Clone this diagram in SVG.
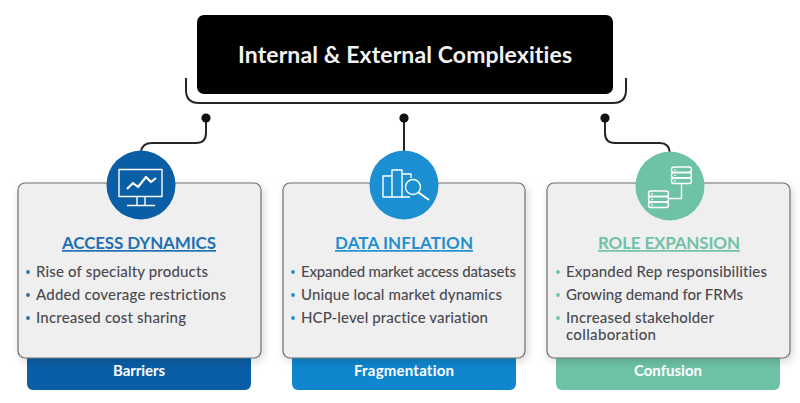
<svg xmlns="http://www.w3.org/2000/svg" width="800" height="403" viewBox="0 0 800 403">
<style>
.t{font-family:Lato,"Liberation Sans",sans-serif;font-variant-ligatures:none}
.card{fill:#efefef;stroke:#6e6e6e;stroke-width:1.2;filter:url(#sh)}
.b{font-size:15px;font-weight:500;fill:#4a4a4f}
.h{font-size:17px;font-weight:700;text-anchor:middle;text-decoration:underline}
.f{font-size:15px;font-weight:700;fill:#fff;text-anchor:middle}
.c{fill:none;stroke:#262626;stroke-width:2}
.i{fill:none;stroke:#fff;stroke-width:1.4;stroke-linejoin:round}
</style>
<defs>
<filter id="sh" x="-10%" y="-10%" width="120%" height="120%"><feDropShadow dx="2" dy="3" stdDeviation="4" flood-color="#000" flood-opacity=".16"/></filter>
</defs>
<rect width="800" height="403" fill="#fff"/>
<g id="connectors">
<path class="c" d="M186 78V90Q186 103 199 103H613Q626 103 626 90V78"/>
<path class="c" d="M206 118V133Q206 143 196 143H152Q142 143 141 152"/>
<path class="c" d="M404 118V152"/>
<path class="c" d="M605 118V133Q605 143 615 143H660Q669 143 670 153"/>
<circle cx="206" cy="118" r="4.6" fill="#111"/>
<circle cx="404" cy="118" r="4.6" fill="#111"/>
<circle cx="605" cy="118" r="4.6" fill="#111"/>
</g>
<g id="title">
<rect x="197" y="15" width="416" height="79" rx="7" fill="#000"/>
<text class="t" x="405" y="63" font-size="23" font-weight="700" fill="#f2f2f2" text-anchor="middle" textLength="334" lengthAdjust="spacing">Internal &amp; External Complexities</text>
</g>
<g id="access">
<rect x="27" y="340" width="224" height="50" rx="6" fill="#0a5ea6"/>
<text class="t f" x="139" y="376" textLength="52">Barriers</text>
<rect class="card" x="18" y="183" width="243" height="175" rx="7"/>
<text class="t h" x="139" y="249" fill="#1f6fb2" textLength="154">ACCESS DYNAMICS</text>
<g class="t b">
<text x="36" y="277" textLength="172">Rise of specialty products</text>
<text x="36" y="300" textLength="190">Added coverage restrictions</text>
<text x="36" y="323" textLength="150">Increased cost sharing</text>
</g>
<g fill="#2b6ea8"><circle cx="28" cy="272" r="1.9"/><circle cx="28" cy="295" r="1.9"/><circle cx="28" cy="318" r="1.9"/></g>
<circle cx="141" cy="185" r="34.5" fill="#0a5ea6"/>
<g class="i">
<rect x="119" y="169.500" width="43" height="27"/>
<path d="M137 197V205M145 197V205M127 205.500H155"/>
<path d="M127 189L133 183L138 187L146 177L151 182L156 178" stroke-width="2.200"/>
</g>
</g>
<g id="data">
<rect x="292" y="340" width="224" height="50" rx="6" fill="#0f86cd"/>
<text class="t f" x="404" y="376" textLength="100">Fragmentation</text>
<rect class="card" x="283" y="183" width="242" height="175" rx="7"/>
<text class="t h" x="404" y="249" fill="#1f8fd0" textLength="138">DATA INFLATION</text>
<g class="t b">
<text x="301" y="277" textLength="215">Expanded market access datasets</text>
<text x="301" y="300" textLength="201">Unique local market dynamics</text>
<text x="301" y="323" textLength="187">HCP-level practice variation</text>
</g>
<g fill="#1f8fd0"><circle cx="293" cy="272" r="1.9"/><circle cx="293" cy="295" r="1.9"/><circle cx="293" cy="318" r="1.9"/></g>
<circle cx="404" cy="185" r="34.5" fill="#1b8fd2"/>
<g class="i">
<path d="M383 197V176H392V197ZM392 197V170H402V197ZM402 174H411V178M383 197H410"/>
<circle cx="413" cy="187" r="7.500" fill="#1b8fd2"/>
<path d="M418.500 192.500L429 200" stroke-width="2"/>
</g>
</g>
<g id="role">
<rect x="556" y="340" width="224" height="50" rx="6" fill="#6ec2a6"/>
<text class="t f" x="668" y="376" textLength="68">Confusion</text>
<rect class="card" x="547" y="183" width="243" height="175" rx="7"/>
<text class="t h" x="669" y="249" fill="#6fc2a7" textLength="142">ROLE EXPANSION</text>
<g class="t b">
<text x="566" y="277" textLength="201">Expanded Rep responsibilities</text>
<text x="566" y="300" textLength="177">Growing demand for FRMs</text>
<text x="566" y="323" textLength="148">Increased stakeholder</text>
<text x="566" y="340" textLength="90">collaboration</text>
</g>
<g fill="#6fc2a7"><circle cx="558" cy="272" r="1.9"/><circle cx="558" cy="295" r="1.9"/><circle cx="558" cy="318" r="1.9"/></g>
<circle cx="670" cy="186" r="34.5" fill="#6ec2a6"/>
<g class="i">
<rect x="671.500" y="167" width="20" height="5.500" rx="2.500"/>
<rect x="671.500" y="172.500" width="20" height="5.500" rx="2.500"/>
<rect x="671.500" y="178" width="20" height="5.500" rx="2.500"/>
<rect x="648.500" y="191" width="20" height="5.500" rx="2.500"/>
<rect x="648.500" y="196.500" width="20" height="5.500" rx="2.500"/>
<rect x="648.500" y="202" width="20" height="5.500" rx="2.500"/>
<path d="M681.500 183.500V198.500H668.500"/>
</g>
<g fill="#fff"><circle cx="675" cy="169.800" r=".9"/><circle cx="675" cy="175.300" r=".9"/><circle cx="675" cy="180.800" r=".9"/><circle cx="652" cy="193.800" r=".9"/><circle cx="652" cy="199.300" r=".9"/><circle cx="652" cy="204.800" r=".9"/></g>
</g>
</svg>
